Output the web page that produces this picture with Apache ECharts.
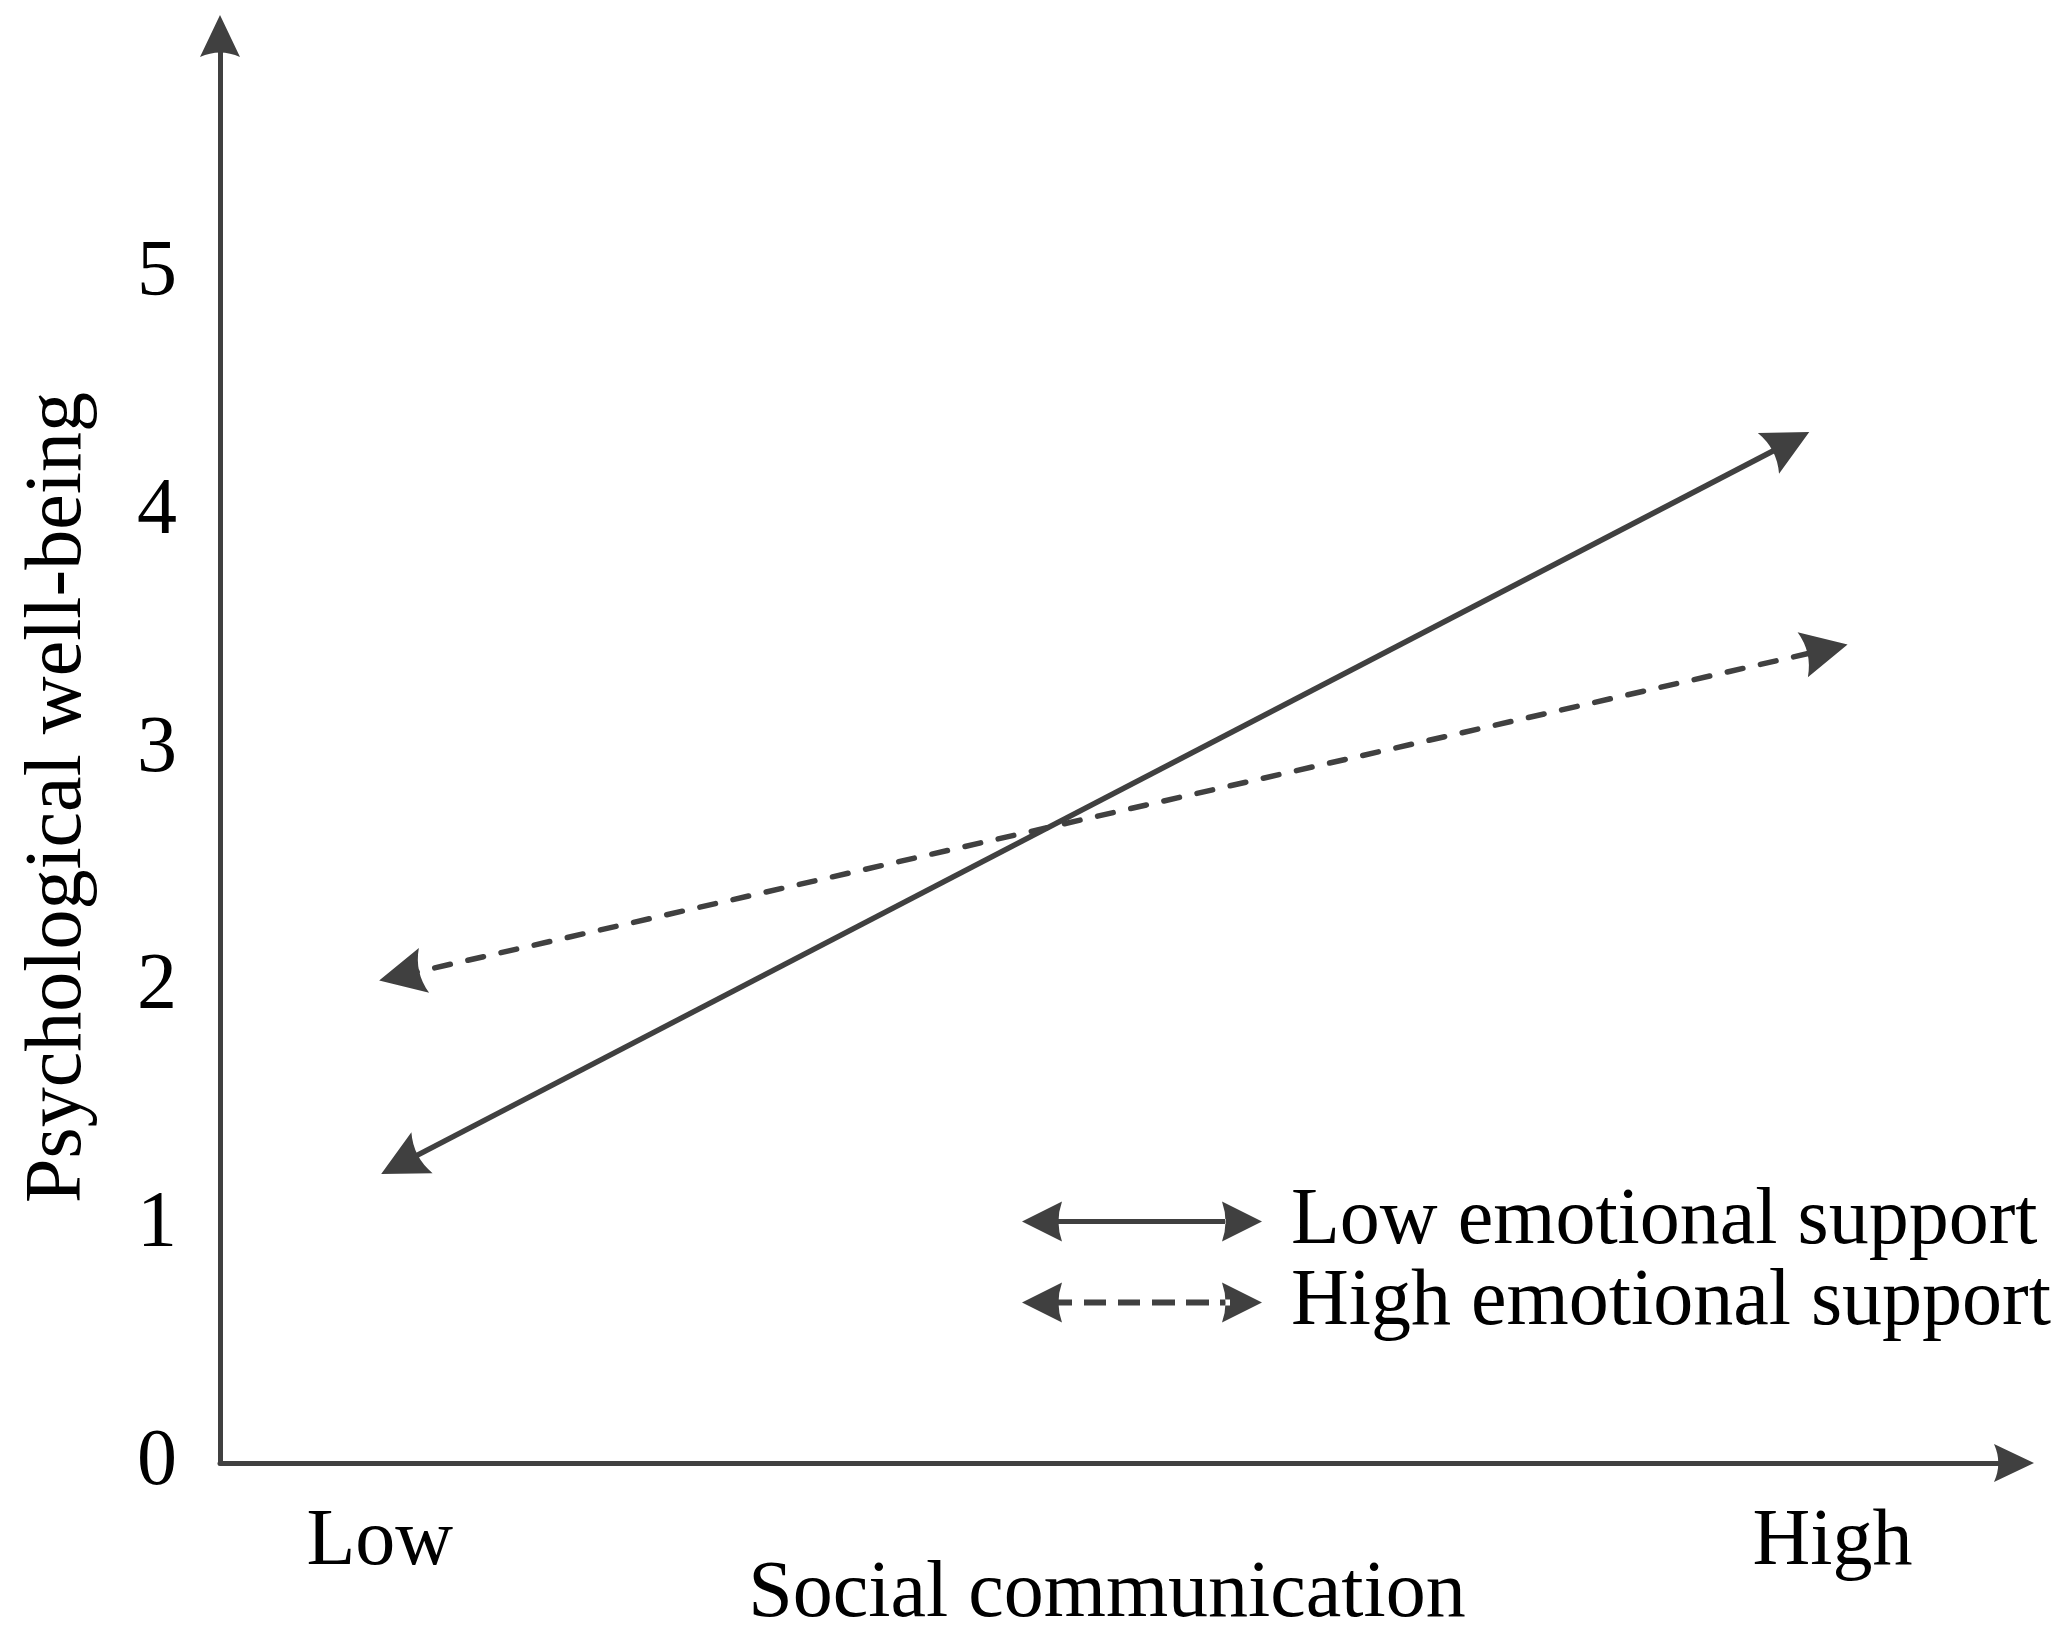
<!DOCTYPE html>
<html>
<head>
<meta charset="utf-8">
<title>Psychological well-being by social communication</title>
<script src="https://cdn.jsdelivr.net/npm/echarts@6.0.0/dist/echarts.min.js"></script>
<style>
    html, body { margin: 0; padding: 0; background: #fff; }
    #chart { width: 2060px; height: 1635px; }
</style>
</head>
<body>
<div id="chart"></div>
<script>
// Data
// ------------------------------

// x categories and their coded positions (-1 SD / +1 SD)
var xCategories = ['Low', 'High'];
var xCodes = [-1, 1];

// y tick labels
var yTicks = [0, 1, 2, 3, 4, 5];

// line end points: [x, y]
var lowSupportLine = [[-0.97, 1.26], [0.94, 4.29]];
var highSupportLine = [[-0.97, 2.05], [0.99, 3.42]];

var seriesNames = ['Low emotional support', 'High emotional support'];


// Chart
// ------------------------------

var ink = '#404040';
var serif = '"Liberation Serif", "Times New Roman", serif';

// arrow heads (pointing up, rotated by the library)
var headPath = 'path://M20 0 L40 42 Q20 33 0 42 Z';

// legend icons: double arrows, solid and dashed
var iconArrows = 'M0 20 L40 0 Q33 20 40 40 Z M240 20 L200 0 Q207 20 200 40 Z';
var iconSolid = 'path://' + iconArrows + ' M36 17.5 L204 17.5 L204 22.5 L36 22.5 Z';
var iconDashed = 'path://' + iconArrows +
    ' M36 17 h14 v6 h-14 Z M62 17 h22 v6 h-22 Z M96 17 h22 v6 h-22 Z' +
    ' M130 17 h23 v6 h-23 Z M164 17 h23 v6 h-23 Z M198 17 h10 v6 h-10 Z';

var chart = echarts.init(document.getElementById('chart'));

chart.setOption({
    animation: false,
    backgroundColor: '#fff',
    textStyle: {
        fontFamily: serif,
        color: '#000'
    },

    grid: {
        left: 220,
        right: 46,
        top: 36,
        bottom: 172,
        containLabel: false,
        outerBoundsMode: 'none'
    },

    legend: {
        orient: 'vertical',
        left: 1022,
        top: 1181,
        padding: 0,
        itemGap: 0,
        itemWidth: 240,
        itemHeight: 40,
        itemStyle: { color: ink, borderWidth: 0 },
        textStyle: {
            fontFamily: serif,
            fontSize: 80,
            color: '#000',
            lineHeight: 81,
            padding: [0, 0, 0, 24]
        },
        data: [
            { name: seriesNames[0], icon: iconSolid },
            { name: seriesNames[1], icon: iconDashed }
        ]
    },

    xAxis: {
        type: 'value',
        min: -1.22,
        max: 1.25,
        name: 'Social communication',
        nameLocation: 'middle',
        nameGap: 92,
        nameMoveOverlap: false,
        nameTextStyle: {
            fontFamily: serif,
            fontSize: 80,
            color: '#000',
            padding: [0, 20, 0, 0]
        },
        axisLine: {
            onZero: false,
            symbol: ['none', headPath],
            symbolSize: [40, 40],
            lineStyle: { color: ink, width: 5 }
        },
        axisTick: { show: false },
        splitLine: { show: false },
        axisLabel: {
            customValues: xCodes,
            margin: 40,
            fontFamily: serif,
            fontSize: 80,
            color: '#000',
            formatter: function (v) {
                return xCategories[xCodes.indexOf(v)];
            }
        }
    },

    yAxis: {
        type: 'value',
        min: 0,
        max: 6,
        interval: 1,
        name: 'Psychological well-being',
        nameLocation: 'middle',
        nameRotate: 90,
        nameGap: 121,
        nameMoveOverlap: false,
        nameTextStyle: {
            fontFamily: serif,
            fontSize: 80,
            color: '#000',
            padding: [0, 96, 0, 0]
        },
        axisLine: {
            show: true,
            onZero: false,
            symbol: ['none', headPath],
            symbolSize: [40, 42],
            lineStyle: { color: ink, width: 5 }
        },
        axisTick: { show: false },
        splitLine: { show: false },
        axisLabel: {
            margin: 43,
            fontFamily: serif,
            fontSize: 80,
            color: '#000',
            showMaxLabel: false,
            formatter: function (v) {
                return yTicks.indexOf(v) >= 0 ? String(v) : '';
            }
        }
    },

    series: [{
        name: seriesNames[0],
        type: 'lines',
        coordinateSystem: 'cartesian2d',
        symbol: [headPath, headPath],
        symbolSize: 46,
        lineStyle: { color: ink, width: 5.5, type: 'solid', opacity: 1 },
        data: [{ coords: lowSupportLine }]
    }, {
        name: seriesNames[1],
        type: 'lines',
        coordinateSystem: 'cartesian2d',
        symbol: [headPath, headPath],
        symbolSize: 46,
        lineStyle: { color: ink, width: 5.5, type: [16, 18], cap: 'round', opacity: 1 },
        data: [{ coords: highSupportLine }]
    }]
});
</script>
</body>
</html>
